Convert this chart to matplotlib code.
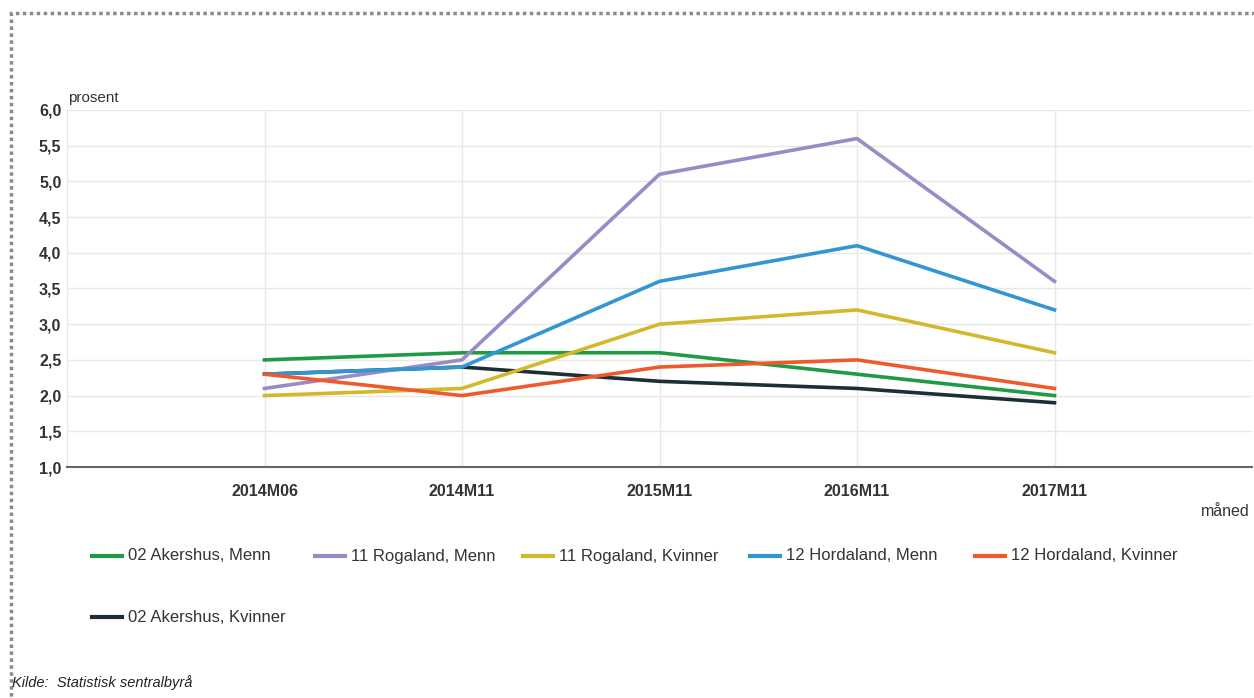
import matplotlib
matplotlib.use("Agg")
import matplotlib.pyplot as plt
from matplotlib.lines import Line2D
from matplotlib.patches import Rectangle

categories = ["2014M06", "2014M11", "2015M11", "2016M11", "2017M11"]
akershus_menn = [2.5, 2.6, 2.6, 2.3, 2.0]
rogaland_menn = [2.1, 2.5, 5.1, 5.6, 3.6]
rogaland_kvinner = [2.0, 2.1, 3.0, 3.2, 2.6]
hordaland_menn = [2.3, 2.4, 3.6, 4.1, 3.2]
hordaland_kvinner = [2.3, 2.0, 2.4, 2.5, 2.1]
akershus_kvinner = [2.3, 2.4, 2.2, 2.1, 1.9]
yticks = [1.0, 1.5, 2.0, 2.5, 3.0, 3.5, 4.0, 4.5, 5.0, 5.5, 6.0]

series = [
    ("02 Akershus, Menn", akershus_menn, "#1f9a45"),
    ("11 Rogaland, Menn", rogaland_menn, "#9a8bc6"),
    ("11 Rogaland, Kvinner", rogaland_kvinner, "#d2b92c"),
    ("12 Hordaland, Menn", hordaland_menn, "#3396d3"),
    ("12 Hordaland, Kvinner", hordaland_kvinner, "#ee5a2c"),
    ("02 Akershus, Kvinner", akershus_kvinner, "#1c2f36"),
]

plt.rcParams['font.family'] = ['Liberation Sans', 'DejaVu Sans']
W, H = 1254, 698
fig = plt.figure(figsize=(W / 100, H / 100), dpi=100)
fig.patch.set_facecolor("white")

def fx(px):
    return px / W

def fy(py):
    return 1 - py / H

ax = fig.add_axes([fx(67), fy(467), fx(1252) - fx(67), fy(110) - fy(467)])
x = list(range(len(categories)))
# dark line lies underneath the others
draw_order = [5, 0, 2, 1, 3, 4]
for z, i in enumerate(draw_order):
    name, vals, col = series[i]
    ax.plot(x, vals, color=col, lw=2.6, zorder=3 + z)

ax.set_xlim(-1, 5)
ax.set_ylim(1.0, 6.0)
ax.set_yticks(yticks)
ax.set_yticklabels([f"{v:.1f}".replace(".", ",") for v in yticks])
ax.set_xticks([-1] + x)
ax.set_xticklabels([""] + categories)
ax.grid(True, color="#e8e8e8", lw=1)
ax.set_axisbelow(True)
for s in ["top", "right", "left"]:
    ax.spines[s].set_visible(False)
ax.spines["bottom"].set_color("#666666")
ax.spines["bottom"].set_linewidth(1.5)
ax.tick_params(length=0, labelsize=11.5, labelcolor="#333333")
ax.tick_params(axis="x", pad=12)
ax.tick_params(axis="y", pad=4)
for lab in ax.get_xticklabels() + ax.get_yticklabels():
    lab.set_fontweight("bold")

fig.text(fx(68), fy(98), "prosent", fontsize=11, color="#333333", ha="left", va="center")
fig.text(fx(1250), fy(512), "måned", fontsize=11.5, color="#333333", ha="right", va="center")

# legend
leg_pos = [(92, 556), (315, 556), (523, 556), (750, 556), (975, 556), (92, 617)]
for (name, vals, col), (lx, ly) in zip(series, leg_pos):
    fig.add_artist(Line2D([fx(lx), fx(lx + 30)], [fy(ly), fy(ly)], color=col, lw=3,
                          transform=fig.transFigure))
    fig.text(fx(lx + 36), fy(ly), name, fontsize=12, color="#333333", ha="left", va="center")

fig.text(fx(12), fy(683), "Kilde:  Statistisk sentralbyrå", fontsize=10.5, style="italic",
         color="#222222", ha="left", va="center")

# frame
fig.add_artist(Rectangle((fx(11), fy(720)), fx(1260) - fx(11), fy(13) - fy(720),
                         transform=fig.transFigure, fill=False, edgecolor="#8a8a8a",
                         lw=2.5, linestyle=(0, (1, 1))))

fig.savefig("out.png", dpi=100, facecolor="white")
